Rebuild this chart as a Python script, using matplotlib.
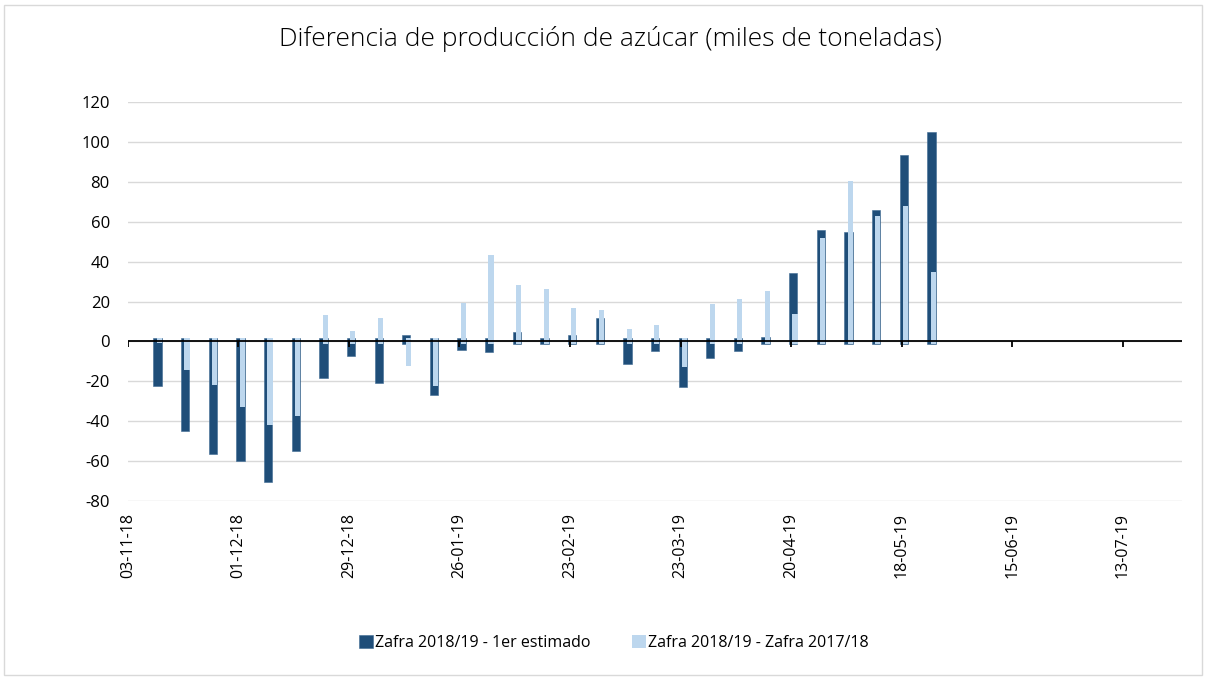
import datetime as dt
import numpy as np
import matplotlib
matplotlib.use("Agg")
import matplotlib.pyplot as plt
import matplotlib.dates as mdates
from matplotlib.patches import Rectangle
from matplotlib.ticker import FuncFormatter

# ---- data ----
start_week = dt.date(2018, 11, 10)
n_weeks = 29
weeks = [start_week + dt.timedelta(days=7 * i) for i in range(n_weeks)]

estimado = [-22.5, -45, -56.5, -60, -70.7, -55, -18.5, -7.5, -20.7, 3.5,
            -27, -4.5, -5.3, 4.6, 1.5, 3, 12, -11.5, -5, -23,
            -8.3, -5, 2, 34.4, 56, 55, 65.8, 93.3, 105.2]
anterior = [-1, -14.3, -21.8, -32.8, -42, -37.3, 13.3, 5.5, 11.8, -12.2,
            -22.3, 19.5, 43.3, 28.5, 26.5, 17, 16, 6.5, 8.5, -12.7,
            19, 21.3, 25.3, 13.7, 51.8, 80.3, 63, 67.8, 34.7]

tick_dates = [dt.date(2018, 11, 3) + dt.timedelta(days=28 * i) for i in range(10)]
x_start = dt.date(2018, 11, 3)
x_end = dt.date(2019, 7, 28)

labels = ["Zafra 2018/19 - 1er estimado", "Zafra 2018/19 - Zafra 2017/18"]
title = "Diferencia de producción de azúcar (miles de toneladas)"

# ---- style ----
DARK = "#1F4E79"
LIGHT = "#BDD7EE"
GRID = "#D9D9D9"
STUB = 1.5
FONT = ["Open Sans", "DejaVu Sans"]
plt.rcParams["font.family"] = FONT

fig = plt.figure(figsize=(12.06, 6.77), dpi=100)
ax = fig.add_axes([0.106, 0.26, 0.874, 0.589])

x = mdates.date2num(weeks)
est = np.array(estimado)
ant = np.array(anterior)

est_bottom = -np.sign(est) * STUB
ant_bottom = -np.sign(ant) * STUB
ax.bar(x - 0.5, est - est_bottom, bottom=est_bottom, width=2.1, align="edge",
       color=DARK, edgecolor="#3E6A93", linewidth=0.4, zorder=3, label=labels[0])
ax.bar(x + 0.35, ant - ant_bottom, bottom=ant_bottom, width=1.3, align="edge",
       color=LIGHT, linewidth=0, zorder=4, label=labels[1])

ax.axhline(0, color="black", linewidth=1.3, zorder=5)
tnum = mdates.date2num(tick_dates)
ax.vlines(tnum, -2.6, 0, color="black", linewidth=1.3, zorder=5)

ax.set_xlim(mdates.date2num(x_start), mdates.date2num(x_end))
ax.set_ylim(-80, 120)
ax.set_yticks(np.arange(-80, 121, 20))
ax.yaxis.set_major_formatter(FuncFormatter(lambda v, p: f"{v:.0f}"))
ax.yaxis.grid(True, color=GRID, linewidth=1, zorder=0)
ax.set_axisbelow(True)

ax.set_xticks(tnum)
ax.set_xticklabels([d.strftime("%d-%m-%y") for d in tick_dates], rotation=90)
ax.tick_params(axis="x", length=0, pad=9, labelsize=11.5)
ax.tick_params(axis="y", length=0, pad=13, labelsize=12)
for s in ax.spines.values():
    s.set_visible(False)

fig.suptitle(title, x=0.506, y=0.962, fontsize=19, fontweight="light")

leg = fig.legend(loc="center", bbox_to_anchor=(0.509, 0.05), ncol=2, frameon=False,
                 fontsize=11.5, handlelength=0.9, handleheight=0.9,
                 handletextpad=0.1, columnspacing=2.6)

fig.patches.append(Rectangle((0.003, 0.003), 0.994, 0.99, transform=fig.transFigure,
                             fill=False, edgecolor="#D9D9D9", linewidth=1))

fig.savefig("out.png", dpi=100)
